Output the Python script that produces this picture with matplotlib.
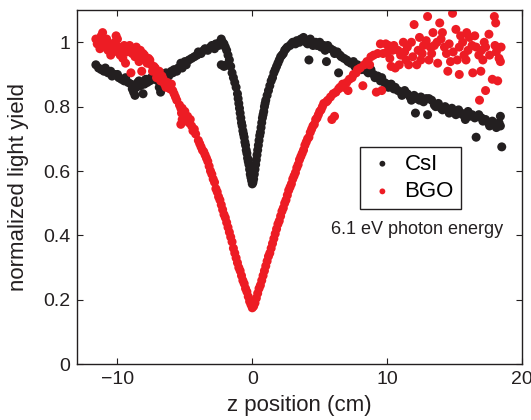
import matplotlib
matplotlib.use("Agg")
import matplotlib.pyplot as plt

plt.rcParams["font.family"] = ["Liberation Sans", "DejaVu Sans"]

# CsI: z position (cm) and normalized light yield
csi_z = [-11.6, -11.4, -11.2, -11.0, -10.9, -10.7, -10.5, -10.4, -10.2, -10.0,
         -9.9, -9.7, -9.5, -9.4, -9.2, -9.0, -8.9, -8.8, -8.7, -8.6,
         -8.5, -8.4, -8.3, -8.1, -8.0, -7.9, -7.8, -7.6, -7.5, -7.3,
         -7.2, -7.0, -6.9, -6.8, -6.7, -6.5, -6.4, -6.2, -6.0, -5.9,
         -5.8, -5.6, -5.5, -5.3, -5.2, -5.0, -4.9, -4.7, -4.5, -4.3,
         -4.1, -4.0, -3.8, -3.6, -3.5, -3.3, -3.1, -3.0, -2.8, -2.7,
         -2.5, -2.4, -2.3, -2.2, -2.1, -2.3, -2.1, -1.9, -2.0, -1.9,
         -1.8, -1.7, -1.6, -1.5, -1.4, -1.3, -1.2, -1.1, -1.05, -1.0,
         -0.95, -0.9, -0.85, -0.8, -0.75, -0.7, -0.65, -0.6, -0.55, -0.5,
         -0.45, -0.4, -0.35, -0.3, -0.25, -0.2, -0.15, -0.1, -0.05, 0.0,
         0.05, 0.1, 0.15, 0.2, 0.25, 0.3, 0.35, 0.4, 0.45, 0.5,
         0.55, 0.6, 0.65, 0.7, 0.75, 0.8, 0.85, 0.9, 0.95, 1.0,
         1.1, 1.2, 1.3, 1.4, 1.5, 1.6, 1.7, 1.8, 1.9, 2.0,
         2.1, 2.2, 2.3, 2.4, 2.5, 2.6, 2.8, 2.9, 3.0, 3.2,
         3.3, 3.5, 3.6, 3.8, 3.9, 4.0, 4.1, 4.3, 4.4, 4.5,
         4.2, 4.7, 4.8, 5.0, 5.1, 5.3, 5.4, 5.5, 5.6, 5.8,
         6.0, 6.1, 6.3, 6.5, 6.4, 6.6, 6.8, 7.0, 7.1, 7.3,
         7.5, 7.6, 7.8, 8.0, 8.1, 8.3, 8.5, 8.6, 8.8, 9.0,
         9.1, 9.3, 9.5, 9.6, 9.8, 10.0, 10.1, 10.3, 10.5, 10.6,
         10.8, 11.0, 11.1, 11.3, 11.5, 11.7, 11.8, 12.0, 12.1, 12.2,
         12.4, 12.5, 12.7, 12.9, 13.0, 13.1, 13.3, 13.5, 13.6, 13.8,
         14.0, 14.1, 14.3, 14.5, 14.6, 14.8, 15.0, 15.1, 15.3, 15.5,
         15.6, 15.8, 16.0, 16.1, 16.3, 16.5, 16.6, 16.8, 17.0, 17.1,
         17.3, 17.5, 17.6, 17.8, 18.0, 18.1, 18.3, 18.4, 18.4, 18.5]
csi_y = [0.93, 0.92, 0.915, 0.91, 0.92, 0.905, 0.91, 0.895, 0.90, 0.90,
         0.89, 0.885, 0.88, 0.89, 0.875, 0.87, 0.855, 0.845, 0.835, 0.86,
         0.875, 0.88, 0.865, 0.84, 0.87, 0.885, 0.875, 0.88, 0.89, 0.885,
         0.895, 0.88, 0.86, 0.845, 0.89, 0.90, 0.905, 0.895, 0.91, 0.905,
         0.915, 0.91, 0.92, 0.935, 0.92, 0.94, 0.93, 0.945, 0.95, 0.955,
         0.96, 0.97, 0.965, 0.975, 0.98, 0.975, 0.985, 0.99, 0.98, 0.995,
         0.99, 1.0, 1.01, 1.0, 0.995, 0.93, 0.925, 0.93, 0.985, 0.975,
         0.96, 0.945, 0.925, 0.905, 0.89, 0.875, 0.86, 0.84, 0.825, 0.81,
         0.795, 0.78, 0.765, 0.75, 0.74, 0.725, 0.715, 0.705, 0.69, 0.68,
         0.665, 0.655, 0.64, 0.63, 0.62, 0.605, 0.59, 0.58, 0.57, 0.56,
         0.565, 0.575, 0.59, 0.605, 0.62, 0.635, 0.65, 0.665, 0.68, 0.695,
         0.71, 0.72, 0.735, 0.75, 0.765, 0.775, 0.785, 0.80, 0.81, 0.82,
         0.835, 0.85, 0.865, 0.88, 0.89, 0.905, 0.915, 0.925, 0.935, 0.945,
         0.955, 0.96, 0.965, 0.975, 0.98, 0.985, 0.99, 0.995, 1.0, 0.995,
         1.005, 1.0, 1.01, 1.015, 1.005, 1.0, 0.995, 1.01, 1.0, 0.99,
         0.945, 1.0, 0.99, 1.0, 0.985, 0.99, 0.975, 0.94, 0.99, 0.98,
         0.975, 0.965, 0.97, 0.96, 0.905, 0.955, 0.95, 0.945, 0.94, 0.935,
         0.94, 0.925, 0.93, 0.925, 0.915, 0.92, 0.91, 0.905, 0.915, 0.90,
         0.89, 0.895, 0.88, 0.89, 0.875, 0.87, 0.86, 0.87, 0.855, 0.86,
         0.85, 0.845, 0.835, 0.85, 0.84, 0.83, 0.82, 0.835, 0.78, 0.825,
         0.82, 0.83, 0.815, 0.825, 0.775, 0.825, 0.82, 0.805, 0.80, 0.81,
         0.795, 0.79, 0.80, 0.79, 0.78, 0.795, 0.785, 0.775, 0.79, 0.78,
         0.775, 0.76, 0.785, 0.77, 0.775, 0.765, 0.705, 0.775, 0.765, 0.755,
         0.76, 0.75, 0.74, 0.755, 0.745, 0.735, 0.75, 0.74, 0.77, 0.675]

# BGO: z position (cm) and normalized light yield
bgo_z = [-11.6, -11.5, -11.4, -11.3, -11.2, -11.1, -11.0, -10.9, -10.8, -10.7,
         -10.6, -10.5, -10.4, -10.3, -10.2, -10.1, -10.0, -9.9, -9.8, -9.7,
         -9.6, -9.5, -9.4, -9.3, -9.2, -9.1, -9.0, -8.9, -8.8, -8.7,
         -8.6, -8.5, -8.4, -8.3, -8.2, -8.1, -8.0, -7.9, -7.8, -7.7,
         -7.6, -7.5, -7.4, -7.3, -7.2, -7.1, -7.0, -6.9, -6.8, -6.7,
         -6.6, -6.5, -6.4, -6.3, -6.2, -6.1, -6.0, -5.9, -5.8, -5.7,
         -5.6, -5.4, -5.3, -5.25, -5.2, -5.1, -5.0, -5.3, -5.2, -4.9,
         -4.8, -4.7, -4.6, -4.5, -4.4, -4.3, -4.2, -4.0, -3.9, -3.8,
         -3.7, -3.6, -3.5, -3.4, -3.3, -3.2, -3.1, -3.0, -2.9, -2.8,
         -2.7, -2.6, -2.5, -2.4, -2.3, -2.2, -2.1, -2.0, -1.9, -1.8,
         -1.7, -1.6, -1.5, -1.4, -1.3, -1.2, -1.1, -1.0, -0.9, -0.8,
         -0.7, -0.6, -0.5, -0.4, -0.3, -0.2, -0.1, 0.0, 0.1, 0.2,
         0.3, 0.4, 0.5, 0.6, 0.7, 0.8, 0.9, 1.0, 1.1, 1.2,
         1.3, 1.4, 1.5, 1.6, 1.7, 1.8, 1.9, 2.0, 2.1, 2.2,
         2.3, 2.4, 2.5, 2.6, 2.7, 2.8, 2.9, 3.0, 3.1, 3.2,
         3.3, 3.4, 3.5, 3.6, 3.7, 3.8, 3.9, 4.0, 4.1, 4.2,
         4.3, 4.4, 4.5, 4.6, 4.7, 4.8, 4.9, 5.0, 5.1, 5.2,
         5.3, 5.5, 5.6, 5.8, 5.9, 6.0, 6.1, 6.2, 6.4, 6.5,
         6.7, 6.8, 7.0, 7.1, 7.2, 7.4, 7.5, 7.7, 7.8, 8.0,
         8.2, 8.3, 8.5, 8.7, 8.8, 9.0, 9.2, 9.3, 9.5, 9.6,
         9.7, 9.9, 10.1, 10.3, 10.4, 10.6, 10.9, 11.2, 11.3, 11.6,
         11.9, 12.0, 12.2, 12.4, 12.6, 12.7, 13.0, 13.1, 13.4, 13.5,
         13.75, 13.9, 14.0, 14.25, 14.4, 14.5, 14.85, 15.1, 15.35, 15.35,
         15.45, 15.7, 15.85, 16.1, 16.35, 16.6, 16.8, 16.85, 16.95, 17.1,
         17.3, 17.3, 17.55, 17.8, 17.95, 18.05, 18.2, 18.3, 18.45, 10.0,
         10.5, 10.8, 11.0, 11.5, 11.8, 12.3, 12.9, 13.2, 13.7, 14.1,
         14.6, 14.9, 15.2, 15.6, 16.0, 16.3, 16.5, 17.0, 17.6, 18.0,
         18.4, 10.2, 11.4, 12.5, 13.3, 14.7, 15.9, 17.2, 18.1]
bgo_y = [1.01, 0.995, 1.0, 0.98, 1.02, 1.03, 1.005, 0.985, 1.01, 0.975,
         0.995, 0.96, 0.985, 0.97, 1.0, 1.02, 1.01, 0.985, 0.96, 0.975,
         0.95, 0.99, 0.935, 0.97, 0.985, 0.99, 0.905, 0.965, 0.975, 0.955,
         0.985, 0.96, 0.94, 0.975, 0.91, 0.965, 0.96, 0.945, 0.935, 0.95,
         0.945, 0.93, 0.91, 0.925, 0.92, 0.89, 0.905, 0.91, 0.88, 0.895,
         0.885, 0.87, 0.86, 0.875, 0.86, 0.855, 0.87, 0.85, 0.84, 0.83,
         0.82, 0.805, 0.795, 0.78, 0.795, 0.775, 0.785, 0.745, 0.76, 0.765,
         0.77, 0.75, 0.76, 0.74, 0.725, 0.73, 0.715, 0.695, 0.685, 0.675,
         0.665, 0.66, 0.65, 0.64, 0.63, 0.615, 0.60, 0.59, 0.575, 0.565,
         0.545, 0.535, 0.52, 0.51, 0.495, 0.48, 0.465, 0.455, 0.44, 0.425,
         0.41, 0.395, 0.38, 0.36, 0.345, 0.33, 0.315, 0.30, 0.29, 0.275,
         0.26, 0.25, 0.235, 0.225, 0.21, 0.195, 0.185, 0.175, 0.18, 0.19,
         0.205, 0.22, 0.235, 0.245, 0.26, 0.275, 0.29, 0.305, 0.32, 0.335,
         0.345, 0.36, 0.375, 0.39, 0.405, 0.42, 0.435, 0.445, 0.46, 0.475,
         0.485, 0.50, 0.51, 0.525, 0.54, 0.55, 0.56, 0.575, 0.585, 0.595,
         0.61, 0.62, 0.635, 0.645, 0.655, 0.665, 0.68, 0.69, 0.70, 0.705,
         0.72, 0.73, 0.74, 0.745, 0.76, 0.765, 0.775, 0.785, 0.79, 0.80,
         0.81, 0.815, 0.82, 0.83, 0.76, 0.84, 0.77, 0.845, 0.855, 0.86,
         0.87, 0.86, 0.875, 0.85, 0.885, 0.89, 0.90, 0.905, 0.915, 0.92,
         0.865, 0.93, 0.94, 0.93, 0.955, 0.96, 0.845, 0.965, 0.995, 0.85,
         0.965, 0.995, 0.99, 0.925, 0.975, 0.92, 0.93, 1.0, 0.97, 0.93,
         0.955, 1.055, 0.93, 1.015, 0.965, 0.99, 1.08, 0.945, 1.03, 0.99,
         0.935, 1.06, 1.01, 0.985, 0.965, 0.91, 1.09, 1.04, 0.985, 0.90,
         1.02, 0.96, 0.945, 1.015, 0.905, 0.985, 0.96, 0.82, 0.91, 0.945,
         0.985, 0.85, 1.025, 0.885, 1.08, 1.06, 0.88, 0.95, 0.985, 0.97,
         0.99, 0.975, 0.96, 0.985, 1.0, 0.975, 1.005, 0.985, 1.0, 1.03,
         0.995, 0.97, 0.945, 1.0, 0.975, 0.99, 1.02, 0.975, 0.96, 0.99,
         0.94, 0.95, 0.945, 0.945, 0.965, 0.94, 1.03, 1.0, 0.97]

black = "#231f20"
red = "#ed1c24"

fig = plt.figure(figsize=(5.31, 4.2), dpi=100)
ax = fig.add_axes([0.145, 0.133, 0.838, 0.843])

ax.scatter(csi_z, csi_y, s=42, color=black, edgecolors="none", label="CsI")
ax.scatter(bgo_z, bgo_y, s=42, color=red, edgecolors="none", label="BGO")

ax.set_xlim(-13, 20)
ax.set_ylim(0, 1.1)
ax.set_xticks([-10, 0, 10, 20])
ax.set_yticks([0, 0.2, 0.4, 0.6, 0.8, 1])
ax.set_yticklabels(["0", "0.2", "0.4", "0.6", "0.8", "1"])
ax.tick_params(direction="in", top=True, right=True, length=4, width=0.8,
               labelsize=14, pad=5, color=black, labelcolor=black)
for sp in ax.spines.values():
    sp.set_linewidth(1.0)
    sp.set_color(black)

ax.set_xlabel("z position (cm)", fontsize=16, labelpad=5, color=black)
ax.set_ylabel("normalized light yield", fontsize=16, labelpad=10, color=black)

leg = ax.legend(loc="upper left", bbox_to_anchor=(8.0, 0.675),
                bbox_transform=ax.transData, fontsize=16, frameon=True,
                fancybox=False, edgecolor=black, framealpha=1,
                handlelength=1.4, handletextpad=0.3, labelspacing=0.3,
                borderpad=0.3, borderaxespad=0, markerscale=0.65)
leg.get_frame().set_linewidth(1.0)

ax.text(12.2, 0.417, "6.1 eV photon energy", fontsize=13, ha="center",
        va="center", color=black)

fig.savefig("out.png", dpi=100)
